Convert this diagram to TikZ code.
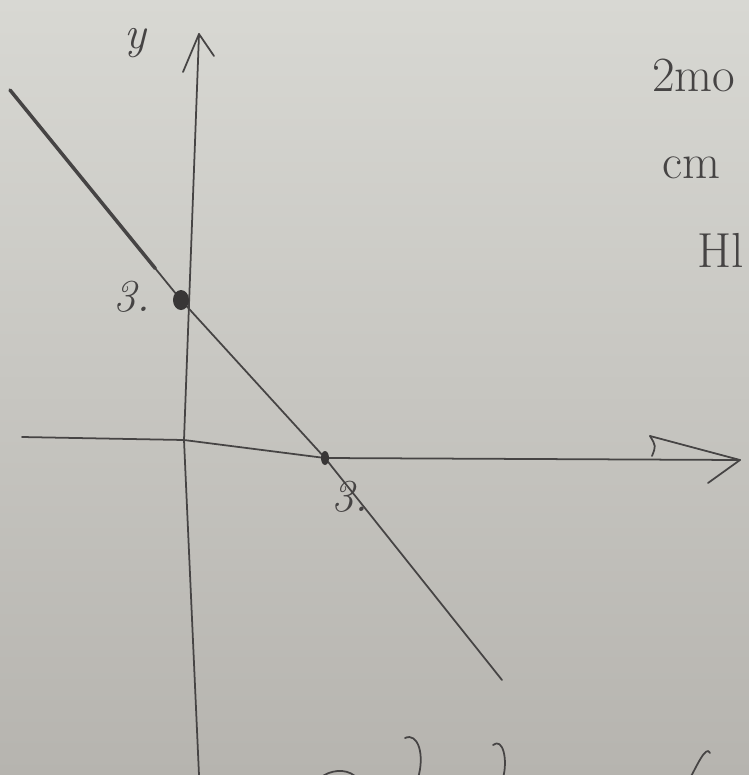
\documentclass[tikz,border=0pt]{standalone}
\usepackage{tikz}
\usetikzlibrary{positioning, calc}

\definecolor{paper}{RGB}{216,216,211}
\definecolor{paperlow}{RGB}{182,180,175}
\definecolor{ink}{RGB}{70,68,68}

\begin{document}
\begin{tikzpicture}[x=0.02cm, y=-0.02cm,
    pen/.style={draw=ink, line width=1pt, line cap=round, line join=round},
    hand/.style={text=ink, font=\itshape\fontsize{26}{26}\selectfont, inner sep=0pt},
    note/.style={hand, font=\fontsize{28}{28}\selectfont, anchor=west},
    blob/.style={fill=ink!80!black, draw=none}]
  \useasboundingbox (0,0) rectangle (749,775);
  % Paper
  \shade[top color=paper, bottom color=paperlow] (0,0) rectangle (749,775);

  \begin{scope}
    \clip (0,0) rectangle (749,775);

    % Points
    \coordinate (ybot) at (199,775);
    \coordinate (ymid) at (184,440);
    \coordinate (ytop) at (199,34);
    \coordinate (xleft) at (22,437);
    \coordinate (xright) at (740,460);
    \coordinate (lstart) at (10,90);
    \coordinate (yint) at (181,300);
    \coordinate (xint) at (325,458);
    \coordinate (lend) at (502,680);

    % Axes
    \draw[pen] (ybot) -- (ymid) -- (ytop);
    \draw[pen] ($(ytop)+(-16,38)$) -- (ytop) -- ($(ytop)+(15,22)$);
    \draw[pen] (xleft) -- (ymid) -- (xint) -- (xright);
    \draw[pen] ($(xright)+(-90,-24)$) -- (xright) -- ($(xright)+(-32,23)$);
    \draw[pen] ($(xright)+(-90,-24)$) .. controls ($(xright)+(-84,-14)$) .. ($(xright)+(-88,-4)$);

    % Line
    \draw[pen] (lstart) -- (yint) -- (xint) -- (lend);
    \draw[pen, line width=2pt] (lstart) -- ($(lstart)!0.85!(yint)$);

    % Intercepts
    \fill[blob] (yint) ellipse (8 and 10);
    \fill[blob] (xint) ellipse (4 and 7);

    % Labels
    \node[hand] (ylab) at (135,43) {y};
    \node[hand] (ythree) at (132,297) {3.};
    \node[hand] (xthree) at (350,497) {3.};

    % Notes at the right edge
    \node[note] (noteA) at (652,75) {2mo};
    \node[note] (noteB) at (662,168) {cm};
    \node[note, anchor=east] (noteC) at (744,250) {Hl};

    % Strokes at the bottom edge
    \draw[pen] (320,778) .. controls (330,770) and (345,768) .. (355,776);
    \draw[pen] (405,738) .. controls (418,732) and (425,755) .. (418,778);
    \draw[pen] (493,745) .. controls (503,737) and (508,760) .. (503,778);
    \draw[pen] (710,753) .. controls (706,744) and (696,768) .. (690,778);
  \end{scope}
\end{tikzpicture}
\end{document}
